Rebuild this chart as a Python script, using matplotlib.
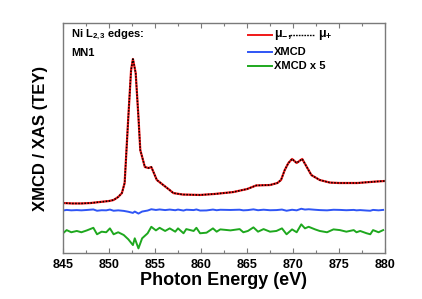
import numpy as np
import matplotlib
matplotlib.use('Agg')
from matplotlib import pyplot as plt
import matplotlib.ticker as ticker

plt.rcParams['font.family'] = ['Liberation Sans', 'DejaVu Sans']
plt.rcParams['font.weight'] = 'bold'
plt.rcParams['mathtext.fontset'] = 'custom'
plt.rcParams['mathtext.rm'] = 'Liberation Sans:bold'
plt.rcParams['mathtext.bf'] = 'Liberation Sans:bold'
plt.rcParams['mathtext.it'] = 'Liberation Sans:bold'

# XAS (mu-, mu+), normalised so that pre-edge = 0, L3 peak = 1
energy_xas = [845.0, 846.0, 847.0, 848.0, 849.0, 850.0, 850.5, 851.0, 851.4, 851.7,
              852.1, 852.4, 852.6, 852.9, 853.2, 853.4, 853.9, 854.3, 854.6, 855.2,
              855.9, 856.6, 857.0, 858.0, 859.9, 861.5, 863.5, 865.0, 866.0, 867.5,
              868.3, 868.7, 869.1, 869.5, 869.9, 870.4, 871.0, 871.5, 872.0, 872.9,
              874.0, 875.0, 877.0, 879.0, 880.0]
xas = [0.000, -0.003, -0.003, 0.000, 0.007, 0.014, 0.021, 0.042, 0.069, 0.139,
       0.597, 0.924, 1.000, 0.903, 0.597, 0.368, 0.250, 0.243, 0.250, 0.160,
       0.125, 0.090, 0.069, 0.059, 0.056, 0.063, 0.076, 0.097, 0.122, 0.125,
       0.139, 0.160, 0.229, 0.278, 0.306, 0.278, 0.306, 0.250, 0.194, 0.160,
       0.142, 0.139, 0.139, 0.149, 0.153]

# XMCD x 5 curve (offset included)
energy_xmcd = [845.0, 845.4, 845.9, 846.5, 847.0, 847.6, 848.3, 848.7, 849.2, 849.7,
               850.1, 850.5, 851.0, 851.6, 852.1, 852.6, 852.8, 853.2, 853.6, 854.2,
               854.6, 855.1, 855.5, 856.1, 856.6, 857.2, 857.5, 858.1, 858.4, 859.2,
               859.5, 859.9, 860.6, 861.3, 861.7, 862.1, 863.2, 864.2, 864.6, 865.1,
               865.7, 866.2, 866.8, 867.5, 868.2, 868.8, 869.3, 869.9, 870.4, 870.9,
               871.3, 871.7, 872.4, 872.9, 873.7, 874.4, 875.1, 875.8, 876.6, 876.9,
               877.3, 878.0, 878.4, 878.7, 879.3, 879.8]
xmcd_x5 = [-0.210, -0.188, -0.203, -0.194, -0.203, -0.190, -0.172, -0.217, -0.199, -0.203,
           -0.176, -0.217, -0.203, -0.222, -0.252, -0.292, -0.245, -0.315, -0.245, -0.210,
           -0.165, -0.190, -0.172, -0.194, -0.176, -0.199, -0.176, -0.210, -0.181, -0.194,
           -0.172, -0.210, -0.206, -0.176, -0.199, -0.183, -0.190, -0.181, -0.203, -0.194,
           -0.169, -0.199, -0.181, -0.199, -0.194, -0.176, -0.217, -0.183, -0.203, -0.148,
           -0.176, -0.165, -0.183, -0.194, -0.203, -0.183, -0.188, -0.199, -0.188, -0.203,
           -0.194, -0.210, -0.217, -0.188, -0.203, -0.188]

x5_offset = -0.194
xmcd_offset = -0.049

xmcd_x5 = np.array(xmcd_x5)
xmcd = (xmcd_x5 - x5_offset) / 5.0 + xmcd_offset

red = '#f01818'
blue = '#2f55f5'
green = '#1ea81e'
gray = '#7a7a7a'

fig = plt.figure(figsize=(4.22, 2.99), dpi=100)
ax = fig.add_axes((63 / 422, 46 / 299, 322 / 422, 230 / 299))

ax.plot(energy_xas, xas, color=red, lw=1.6)
ax.plot(energy_xas, xas, color='black', lw=1.1, ls=(0, (1, 1)))
ax.plot(energy_xmcd, xmcd, color=blue, lw=1.4)
ax.plot(energy_xmcd, xmcd_x5, color=green, lw=1.4)

ax.set_xlim(845, 880)
ax.set_ylim(-0.347, 1.25)
ax.set_xticks([845, 850, 855, 860, 865, 870, 875, 880])
ax.xaxis.set_minor_locator(ticker.MultipleLocator(2.5))
ax.set_yticks([])
ax.tick_params(axis='x', which='both', direction='in', top=True, color=gray,
               labelsize=9, pad=4)
ax.tick_params(axis='x', which='major', length=3.5, width=0.8)
ax.tick_params(axis='x', which='minor', length=2, width=0.8)
for s in ax.spines.values():
    s.set_color(gray)
    s.set_linewidth(1.0)

ax.set_xlabel('Photon Energy (eV)', fontsize=13, fontweight='bold', labelpad=1)
ax.set_ylabel('XMCD / XAS (TEY)', fontsize=12, fontweight='bold', labelpad=11)

ax.text(0.025, 0.948, r'Ni L$_{2,3}$ edges:', transform=ax.transAxes,
        fontsize=8, fontweight='bold', va='center', ha='left')
ax.text(0.025, 0.870, 'MN1', transform=ax.transAxes,
        fontsize=8, fontweight='bold', va='center', ha='left')

# hand-made legend
ax.plot([0.575, 0.649], [0.948, 0.948], color=red, lw=1.4, transform=ax.transAxes)
ax.text(0.655, 0.948, r'μ$_{-}$,', transform=ax.transAxes, fontsize=9,
        fontweight='bold', va='center', ha='left')
ax.plot([0.705, 0.783], [0.948, 0.948], color='black', lw=1.0, ls=(0, (1.2, 0.8)),
        transform=ax.transAxes)
ax.text(0.792, 0.948, r'μ$_{+}$', transform=ax.transAxes, fontsize=9,
        fontweight='bold', va='center', ha='left')
ax.plot([0.575, 0.649], [0.874, 0.874], color=blue, lw=1.4, transform=ax.transAxes)
ax.text(0.655, 0.874, 'XMCD', transform=ax.transAxes, fontsize=8,
        fontweight='bold', va='center', ha='left')
ax.plot([0.575, 0.649], [0.813, 0.813], color=green, lw=1.4, transform=ax.transAxes)
ax.text(0.655, 0.813, 'XMCD x 5', transform=ax.transAxes, fontsize=8,
        fontweight='bold', va='center', ha='left')

fig.savefig('out.png', dpi=100)
